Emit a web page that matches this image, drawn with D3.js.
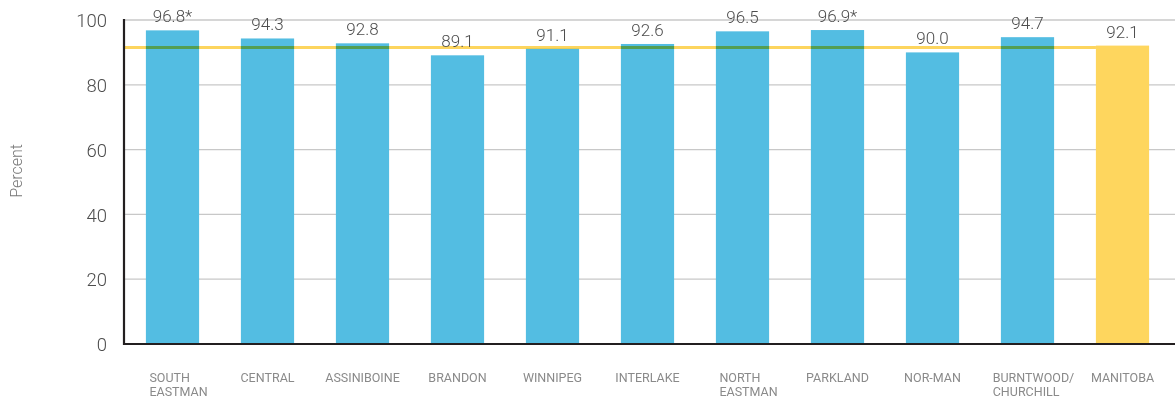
<!DOCTYPE html>
<html><head><meta charset="utf-8">
<script src="https://cdnjs.cloudflare.com/ajax/libs/d3/7.8.5/d3.min.js"></script>
<style>
html,body{margin:0;padding:0;background:#fff;}
svg{display:block;font-family:Roboto,"Noto Sans",sans-serif;}
</style></head>
<body>
<svg id="chart" width="1175" height="399"></svg>
<script>
const categories = ["SOUTH\nEASTMAN","CENTRAL","ASSINIBOINE","BRANDON","WINNIPEG","INTERLAKE","NORTH\nEASTMAN","PARKLAND","NOR-MAN","BURNTWOOD/\nCHURCHILL","MANITOBA"];
const values = [96.8,94.3,92.8,89.1,91.1,92.6,96.5,96.9,90.0,94.7,92.1];
const valueLabels = ["96.8*","94.3","92.8","89.1","91.1","92.6","96.5","96.9*","90.0","94.7","92.1"];
const referenceValue = 91.5;
const yTicks = [0,20,40,60,80,100];
const yTitle = "Percent";

(function(){
const svg = d3.select("#chart");
const mLeft = 124, mRight = 1175, mTop = 20, mBottom = 344;

const x = d3.scaleBand().domain(categories).range([125,1170]).paddingInner(0.44).paddingOuter(0.22);
const y = d3.scaleLinear().domain([0,100]).range([mBottom, mTop]);

// gridlines
svg.append("g").selectAll("line").data(yTicks.filter(d=>d>0)).join("line")
  .attr("x1", mLeft).attr("x2", mRight)
  .attr("y1", d=>y(d)).attr("y2", d=>y(d))
  .attr("stroke","#c8c8c8").attr("stroke-width",1.3);

// y axis tick labels
const yAxis = d3.axisLeft(y).tickValues(yTicks).tickSize(0).tickPadding(17).tickFormat(d3.format("d"));
const gy = svg.append("g").attr("transform",`translate(${mLeft},0)`).call(yAxis);
gy.select(".domain").remove();
gy.selectAll("text").attr("font-size",18.5).attr("fill","#4d4d4d").attr("font-family","Roboto, sans-serif").attr("font-weight",300).attr("dy","0.36em");

// bars
const n = categories.length;
svg.append("g").selectAll("rect").data(values).join("rect")
  .attr("x",(d,i)=>x(categories[i]))
  .attr("width",x.bandwidth())
  .attr("y",d=>y(d))
  .attr("height",d=>mBottom - y(d))
  .attr("fill",(d,i)=> i===n-1 ? "#fed65e" : "#53bde2");

// reference line (multiply blend)
svg.append("line")
  .attr("x1", mLeft).attr("x2", x(categories[n-1]))
  .attr("y1", y(referenceValue)).attr("y2", y(referenceValue))
  .attr("stroke","#fdd55e").attr("stroke-width",3)
  .style("mix-blend-mode","multiply");

// value labels
svg.append("g").selectAll("text").data(values).join("text")
  .attr("x",(d,i)=>x(categories[i]) + x.bandwidth()/2)
  .attr("y",d=>y(d)-8)
  .attr("text-anchor","middle")
  .attr("font-size",17).attr("font-weight",300).attr("fill","#4d4d4d")
  .text((d,i)=>valueLabels[i]);

// axes lines
svg.append("line").attr("x1",mLeft).attr("x2",mLeft).attr("y1",mTop-1).attr("y2",mBottom+1)
  .attr("stroke","#231f20").attr("stroke-width",2.2);
svg.append("line").attr("x1",mLeft-1).attr("x2",mRight).attr("y1",mBottom).attr("y2",mBottom)
  .attr("stroke","#231f20").attr("stroke-width",2.2);

// x labels (one text per line)
const xl = svg.append("g");
categories.forEach((c,i)=>{
  const lines = c.split("\n");
  const cx = x(c) + x.bandwidth()/2;
  const texts = lines.map((l,j)=> xl.append("text")
    .attr("y",381.5 + j*14)
    .attr("font-size",12.5).attr("fill","#8a8a8a").attr("font-weight",400)
    .text(l));
  if(lines.length===1){
    texts[0].attr("text-anchor","middle").attr("x",cx);
  } else {
    const w = d3.max(texts, t=>t.node().getComputedTextLength());
    texts.forEach(t=>t.attr("text-anchor","start").attr("x",cx - w/2 + 6));
  }
});

// y title
svg.append("text").attr("transform","translate(22,171) rotate(-90)")
  .attr("text-anchor","middle").attr("font-size",16).attr("font-weight",300).attr("fill","#777")
  .text(yTitle);
})();
</script>
</body></html>
